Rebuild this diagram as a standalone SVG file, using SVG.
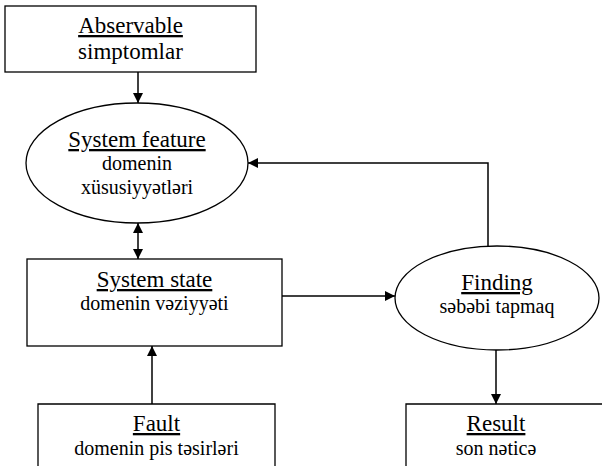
<svg xmlns="http://www.w3.org/2000/svg" width="602" height="466" viewBox="0 0 602 466">
<style>
.shape{fill:#fff;stroke:#000;stroke-width:1.3}
text{font-family:"Times New Roman",Times,"Liberation Serif","DejaVu Serif",serif;fill:#000;text-anchor:middle}
.h{font-size:23px;text-decoration:underline}
.s{font-size:20px}
.c{fill:none;stroke:#000;stroke-width:1.5}
</style>
<defs>
<marker id="ah" viewBox="0 0 10 10" refX="10" refY="5" markerWidth="10" markerHeight="10" markerUnits="userSpaceOnUse" orient="auto-start-reverse">
<path d="M0,0 L10,5 L0,10 Z" fill="#000"/>
</marker>
</defs>
<g id="connectors">
<line class="c" x1="138" y1="72" x2="138" y2="103" marker-end="url(#ah)"/>
<line class="c" x1="138" y1="223" x2="138" y2="259" marker-start="url(#ah)" marker-end="url(#ah)"/>
<line class="c" x1="282" y1="296" x2="395" y2="296" marker-end="url(#ah)"/>
<polyline class="c" points="488,247 488,163 248,163" marker-end="url(#ah)"/>
<line class="c" x1="152" y1="404" x2="152" y2="346" marker-end="url(#ah)"/>
<line class="c" x1="496" y1="350" x2="496" y2="404" marker-end="url(#ah)"/>
</g>
<g id="observable">
<rect class="shape" x="5" y="6" width="251" height="66"/>
<text class="h" x="130.5" y="33">Abservable</text>
<text class="h" style="text-decoration:none" x="130.5" y="59">simptomlar</text>
</g>
<g id="system-feature">
<ellipse class="shape" cx="137" cy="163" rx="111" ry="60"/>
<text class="h" x="137" y="147">System feature</text>
<text class="s" x="137" y="170">domenin</text>
<text class="s" x="137" y="194">xüsusiyyətləri</text>
</g>
<g id="system-state">
<rect class="shape" x="27" y="259" width="255" height="87"/>
<text class="h" x="154.5" y="287">System state</text>
<text class="s" x="154.5" y="310">domenin vəziyyəti</text>
</g>
<g id="finding">
<ellipse class="shape" cx="497" cy="298" rx="102" ry="52"/>
<text class="h" x="497" y="290">Finding</text>
<text class="s" x="497" y="313">səbəbi tapmaq</text>
</g>
<g id="fault">
<path class="shape" d="M38,470 L38,404 L275,404 L275,470"/>
<text class="h" x="156.5" y="431">Fault</text>
<text class="s" x="156.5" y="455">domenin pis təsirləri</text>
</g>
<g id="result">
<path class="shape" d="M406,470 L406,404 L610,404"/>
<text class="h" x="496" y="431">Result</text>
<text class="s" x="496" y="455">son nəticə</text>
</g>
</svg>
